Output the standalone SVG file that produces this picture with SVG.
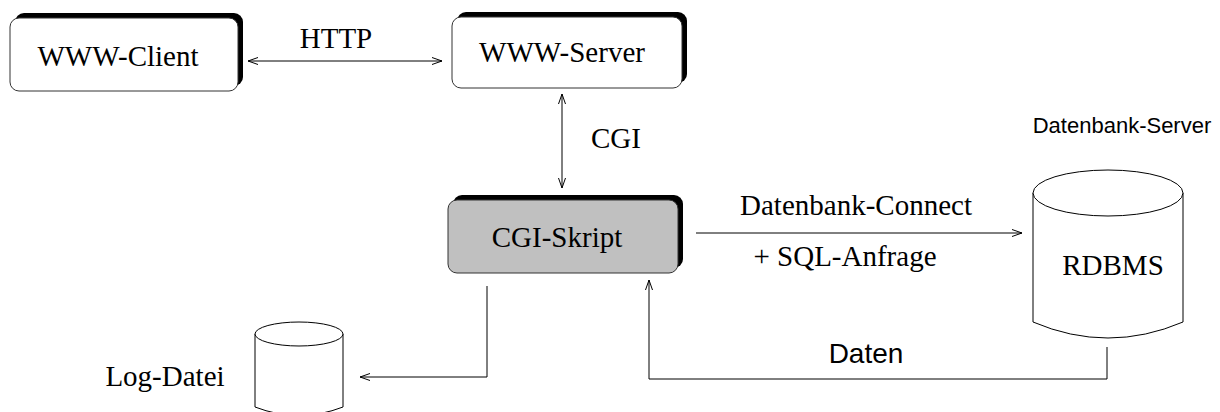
<svg xmlns="http://www.w3.org/2000/svg" width="1220" height="412" viewBox="0 0 1220 412">
<defs>
<marker id="ah" viewBox="0 0 10 8" refX="10" refY="4" markerWidth="10" markerHeight="8" markerUnits="userSpaceOnUse" orient="auto-start-reverse">
<path d="M0,0.5 L10,4 L0,7.5" fill="none" stroke="#000" stroke-width="1"/>
</marker>
</defs>
<style>
.shadow{fill:#000}
.box{fill:#fff;stroke:#333;stroke-width:1}
.gray{fill:#c0c0c0}
.serif{font-family:"Liberation Serif","Times New Roman",serif;font-size:29px;fill:#000}
.sans{font-family:"Liberation Sans",Arial,sans-serif;fill:#000}
.line{fill:none;stroke:#000;stroke-width:1}
.cyl{fill:#fff;stroke:#000;stroke-width:1}
</style>
<rect width="1220" height="412" fill="#fff"/>
<g id="www-client">
<rect class="shadow" x="15" y="13" width="228" height="73" rx="9"/>
<rect class="box" x="10" y="18" width="228" height="73" rx="9"/>
<text class="serif" x="118" y="66" text-anchor="middle">WWW-Client</text>
</g>
<g id="www-server">
<rect class="shadow" x="457" y="12" width="230" height="71" rx="9"/>
<rect class="box" x="452" y="17" width="230" height="71" rx="9"/>
<text class="serif" x="562" y="62" text-anchor="middle">WWW-Server</text>
</g>
<g id="cgi-skript">
<rect class="shadow" x="453" y="195" width="230" height="73" rx="9"/>
<rect class="box gray" x="448" y="200" width="230" height="73" rx="9"/>
<text class="serif" x="557" y="247" text-anchor="middle">CGI-Skript</text>
</g>
<g id="rdbms">
<text class="sans" x="1122" y="133" font-size="22" text-anchor="middle">Datenbank-Server</text>
<path class="cyl" d="M1033,193 L1033,322 Q1108,354 1183,322 L1183,193"/>
<ellipse class="cyl" cx="1108" cy="193" rx="75" ry="23"/>
<text class="serif" x="1113" y="275" text-anchor="middle">RDBMS</text>
</g>
<g id="log-datei">
<path class="cyl" d="M255,334 L255,407 Q299,424 343,407 L343,334"/>
<ellipse class="cyl" cx="299" cy="334" rx="44" ry="12"/>
<text class="serif" x="165" y="386" font-size="25" text-anchor="middle">Log-Datei</text>
</g>
<g id="connectors">
<line class="line" x1="248" y1="61" x2="442" y2="61" marker-start="url(#ah)" marker-end="url(#ah)"/>
<text class="serif" x="336" y="48" font-size="27" text-anchor="middle">HTTP</text>
<line class="line" x1="562" y1="94" x2="562" y2="188" marker-start="url(#ah)" marker-end="url(#ah)"/>
<text class="serif" x="616" y="148" text-anchor="middle">CGI</text>
<line class="line" x1="696" y1="233" x2="1022" y2="233" marker-end="url(#ah)"/>
<text class="serif" x="856" y="215" font-size="28" text-anchor="middle">Datenbank-Connect</text>
<text class="serif" x="845" y="266" font-size="28" text-anchor="middle">+ SQL-Anfrage</text>
<polyline class="line" points="487,286 487,377 360,377" marker-end="url(#ah)"/>
<polyline class="line" stroke-width="1.5" points="1107,347 1107,379 649,379 649,280" marker-end="url(#ah)"/>
<text class="sans" x="866" y="363" font-size="28" text-anchor="middle">Daten</text>
</g>
</svg>
